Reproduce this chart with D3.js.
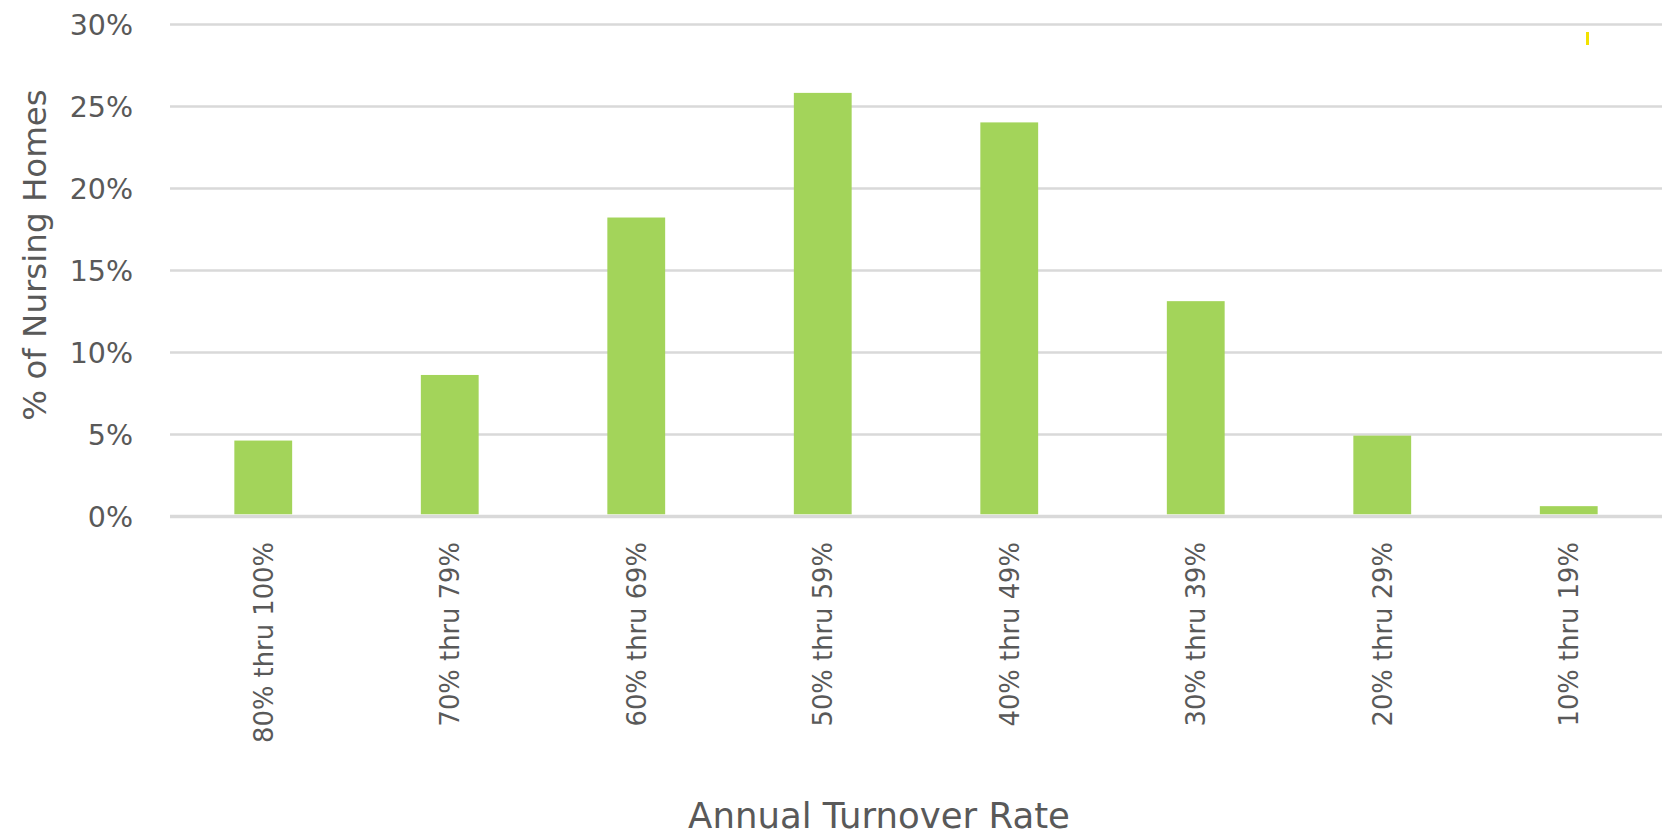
<!DOCTYPE html>
<html>
<head>
<meta charset="utf-8">
<script src="https://cdn.jsdelivr.net/npm/d3@7"></script>
<style>
  html, body { margin: 0; padding: 0; background: #ffffff; }
  svg { display: block; }
  text { font-family: "DejaVu Sans", "Noto Sans", sans-serif; }
</style>
</head>
<body>
<svg id="chart" width="1664" height="836"></svg>
<script>
const categories = ["80% thru 100%", "70% thru 79%", "60% thru 69%", "50% thru 59%",
                    "40% thru 49%", "30% thru 39%", "20% thru 29%", "10% thru 19%"];
const values = [4.6, 8.6, 18.2, 25.8, 24.0, 13.1, 4.9, 0.6];
const yTicks = [0, 5, 10, 15, 20, 25, 30];
const yTitle = "% of Nursing Homes";
const xTitle = "Annual Turnover Rate";

const svg = d3.select("#chart");
const margin = { left: 170, right: 2, top: 24, bottom: 320 };
const W = 1664, H = 836;

const x = d3.scaleBand().domain(categories)
  .range([margin.left, W - margin.right]).paddingInner(0.69).paddingOuter(0.345);
const y = d3.scaleLinear().domain([0, 30]).range([H - margin.bottom, margin.top]);

// gridlines + y tick labels
const yAxis = d3.axisLeft(y).tickValues(yTicks).tickSize(-(W - margin.right - margin.left))
  .tickFormat(d => d + "%").tickPadding(37);
const gy = svg.append("g").attr("transform", `translate(${margin.left},0)`).call(yAxis);
gy.select(".domain").remove();
gy.selectAll(".tick line").attr("stroke", "#d9d9d9").attr("stroke-width", d => d === 0 ? 3.5 : 2.6);
gy.selectAll(".tick text").attr("fill", "#595959").style("font-size", "28.5px")
  .attr("dy", "0.36em");

// bars
svg.append("g").selectAll("rect").data(values).join("rect")
  .attr("x", (d, i) => x(categories[i]))
  .attr("width", x.bandwidth())
  .attr("y", d => y(d))
  .attr("height", d => y(0) - y(d) - 1.75)
  .attr("fill", "#a3d45a");

// x axis labels
const xAxis = d3.axisBottom(x).tickSize(0).tickPadding(0);
const gx = svg.append("g").attr("transform", `translate(0,${y(0)})`).call(xAxis);
gx.select(".domain").remove();
gx.selectAll(".tick text")
  .attr("transform", "rotate(-90)")
  .attr("text-anchor", "end")
  .attr("x", -26)
  .attr("y", 0)
  .attr("dy", "0.36em")
  .attr("fill", "#595959")
  .style("font-size", "25.8px");

// axis titles
svg.append("text")
  .attr("transform", `translate(46,255) rotate(-90)`)
  .attr("text-anchor", "middle")
  .attr("fill", "#595959")
  .style("font-size", "32.5px")
  .text(yTitle);

svg.append("text")
  .attr("x", 879).attr("y", 828)
  .attr("text-anchor", "middle")
  .attr("fill", "#595959")
  .style("font-size", "35.5px")
  .text(xTitle);

// small yellow stray mark (legend remnant)
svg.append("rect").attr("x", 1586).attr("y", 32).attr("width", 3).attr("height", 13).attr("fill", "#f2e200");
</script>
</body>
</html>
